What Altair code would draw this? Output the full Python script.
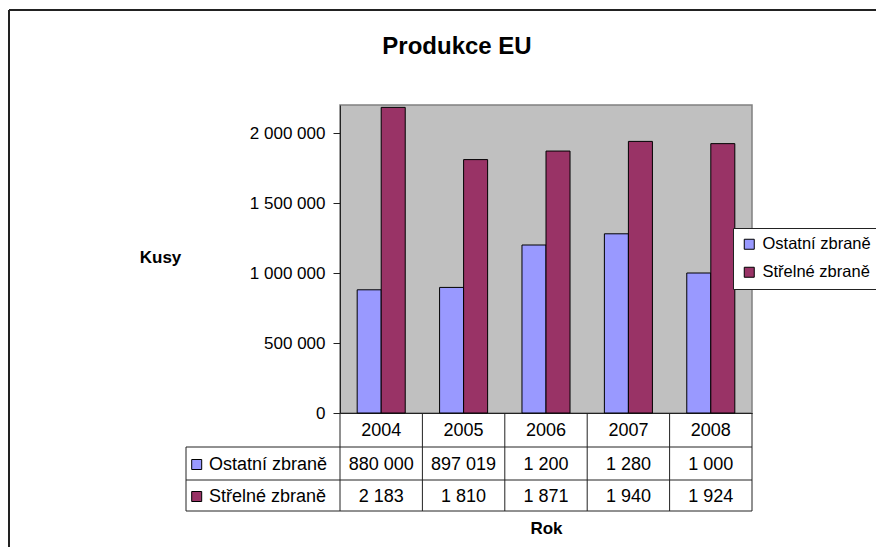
import altair as alt
import pandas as pd

years = ["2004", "2005", "2006", "2007", "2008"]
series = ["Ostatní zbraně", "Střelné zbraně"]
ostatni = [880000, 897019, 1200000, 1280000, 1000000]
strelne = [2183000, 1810000, 1871000, 1940000, 1924000]
ostatni_labels = ["880 000", "897 019", "1 200", "1 280", "1 000"]
strelne_labels = ["2 183", "1 810", "1 871", "1 940", "1 924"]
colors = ["#9999FF", "#993366"]
y_ticks = [0, 500000, 1000000, 1500000, 2000000]
y_tick_labels = ["0", "500 000", "1 000 000", "1 500 000", "2 000 000"]

FONT = "Liberation Sans"
W, H = 412, 308
step = W / len(years)

rows = []
for i, yr in enumerate(years):
    rows.append({"year": yr, "series": series[0], "value": ostatni[i]})
    rows.append({"year": yr, "series": series[1], "value": strelne[i]})
bars_df = pd.DataFrame(rows)

label_expr = " : ".join(
    f"datum.value == {v} ? '{l}'" for v, l in zip(y_ticks, y_tick_labels)
) + " : ''"

xenc = alt.X(
    "year:N", sort=years,
    scale=alt.Scale(paddingInner=0.417, paddingOuter=0.2085),
    axis=alt.Axis(
        title="Rok", labelAngle=0, ticks=False, domain=True, domainColor="#222",
        labelFontSize=18, labelFont=FONT, labelColor="black", labelPadding=17,
        labelBaseline="middle",
        titleFontSize=17, titleFont=FONT, titleFontWeight="bold", titleColor="black",
        titleX=W / 2, titleY=115, titleAlign="center", titleBaseline="middle",
    ),
)
yenc = alt.Y(
    "value:Q",
    scale=alt.Scale(domain=[0, 2200000], nice=False, zero=True),
    axis=alt.Axis(
        values=y_ticks, labelExpr=label_expr, grid=False, tickSize=7,
        tickColor="#222", domainColor="#222",
        labelFontSize=17, labelFont=FONT, labelColor="black", labelPadding=8,
        title="Kusy", titleAngle=0, titleX=-180, titleY=152,
        titleAlign="center", titleBaseline="middle",
        titleFontSize=17, titleFontWeight="bold", titleFont=FONT, titleColor="black",
    ),
)

bars = alt.Chart(bars_df).mark_bar(stroke="black", strokeWidth=1).encode(
    x=xenc,
    xOffset=alt.XOffset("series:N", sort=series, scale=alt.Scale(paddingInner=0, paddingOuter=0)),
    y=yenc,
    color=alt.Color(
        "series:N", sort=series,
        scale=alt.Scale(domain=series, range=colors),
        legend=alt.Legend(
            title=None, orient="none", legendX=393, legendY=123,
            fillColor="white", strokeColor="#222", padding=8,
            symbolType="square", symbolSize=100, symbolStrokeColor="black",
            symbolStrokeWidth=1, symbolOpacity=1,
            labelFontSize=16.5, labelFont=FONT, labelColor="black",
            rowPadding=11, labelOffset=5, labelLimit=300,
        ),
    ),
)

layers = [bars]

def rule(x1, x2, y1, y2, color="#222", width=1.0):
    return alt.Chart(pd.DataFrame({"a": [0]})).mark_rule(
        color=color, strokeWidth=width
    ).encode(x=alt.value(x1), x2=alt.value(x2), y=alt.value(y1), y2=alt.value(y2))

# data table grid
row_tops = [342, 375, 406]
for yy in row_tops:
    layers.append(rule(-154, W, yy, yy))
layers.append(rule(-154, -154, 342, 406))
for i in range(len(years) + 1):
    layers.append(rule(i * step, i * step, H, 406))

# outer chart frame
layers.append(rule(-331, -331, -95, 445, "#222", 2))
layers.append(rule(-331, 540, -95, -95, "#222", 2))

# table values and row labels
row_centers = [359.5, 391.5]
for labels, name, col, yc in zip([ostatni_labels, strelne_labels], series, colors, row_centers):
    df = pd.DataFrame({"year": years, "label": labels})
    layers.append(
        alt.Chart(df).mark_text(font=FONT, fontSize=18, color="black", baseline="middle", align="center").encode(
            x=alt.X("year:N", sort=years), y=alt.value(yc), text="label:N"
        )
    )
    nd = pd.DataFrame({"name": [name]})
    layers.append(
        alt.Chart(nd).mark_square(size=100, filled=True, stroke="black", strokeWidth=1, opacity=1).encode(
            x=alt.value(-143.3), y=alt.value(yc), fill=alt.value(col)
        )
    )
    layers.append(
        alt.Chart(nd).mark_text(font=FONT, fontSize=18, color="black", baseline="middle", align="left").encode(
            x=alt.value(-131), y=alt.value(yc), text="name:N"
        )
    )

# chart title
title_df = pd.DataFrame({"t": ["Produkce EU"]})
layers.append(
    alt.Chart(title_df).mark_text(font=FONT, fontSize=24, fontWeight="bold", color="black", baseline="middle", align="center").encode(
        x=alt.value(117), y=alt.value(-58), text="t:N"
    )
)

chart = alt.layer(*layers).properties(
    width=W, height=H,
    autosize=alt.AutoSizeParams(type="none"),
    padding={"left": 332, "top": 97, "right": 124, "bottom": 134},
    background="white",
).configure_view(fill="#C0C0C0", stroke="#808080", strokeWidth=1.5)

chart.save("out.html", embed_options={"renderer": "svg", "actions": False})
